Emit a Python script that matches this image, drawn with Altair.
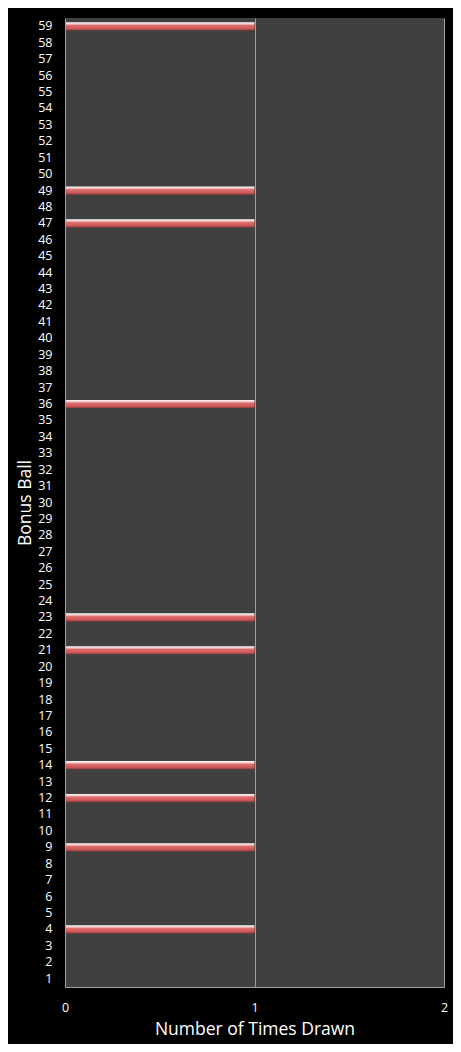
import altair as alt
import pandas as pd

# bonus balls 1..59 and how many times each was drawn
balls = list(range(1, 60))
drawn_once = [4, 9, 12, 14, 21, 23, 36, 47, 49, 59]
times_drawn = [1 if b in drawn_once else 0 for b in balls]

df = pd.DataFrame({"Bonus Ball": balls, "Times": times_drawn})

bar_fill = alt.Gradient(
    gradient="linear",
    x1=0, x2=0, y1=0, y2=1,
    stops=[
        alt.GradientStop(color="#ffffff", offset=0),
        alt.GradientStop(color="#f2c4c4", offset=0.22),
        alt.GradientStop(color="#dc6c6c", offset=0.4),
        alt.GradientStop(color="#cf5a5a", offset=0.75),
        alt.GradientStop(color="#8c3a3a", offset=1),
    ],
)

chart = alt.Chart(df).mark_bar(color=bar_fill).encode(
    x=alt.X("Times:Q", title="Number of Times Drawn",
            scale=alt.Scale(domain=[0, 2], nice=False, zero=True),
            axis=alt.Axis(tickCount=2, format="d", ticks=False, labelPadding=14,
                          labelOverlap=False, labelFlush=False, zindex=1,
                          domainColor="#a0a0a0", gridColor="#a0a0a0",
                          gridOpacity=1, titlePadding=7)),
    y=alt.Y("Bonus Ball:O", sort="descending",
            scale=alt.Scale(paddingInner=0.5, paddingOuter=0.26),
            axis=alt.Axis(ticks=False, domain=False, labelPadding=13, titlePadding=3)),
).properties(
    width=379,
    height=969,
    background="black",
    padding={"left": 57, "top": 10, "right": 9, "bottom": 57},
    autosize=alt.AutoSizeParams(type="none"),
).configure_view(
    fill="#404040",
    stroke=None,
).configure_axis(
    labelColor="white",
    titleColor="white",
    labelFont="Open Sans",
    titleFont="Open Sans",
    labelFontSize=12.5,
    titleFontSize=17.5,
    titleFontWeight="normal",
)

chart.save("out.html", embed_options={"renderer": "svg", "actions": False})
